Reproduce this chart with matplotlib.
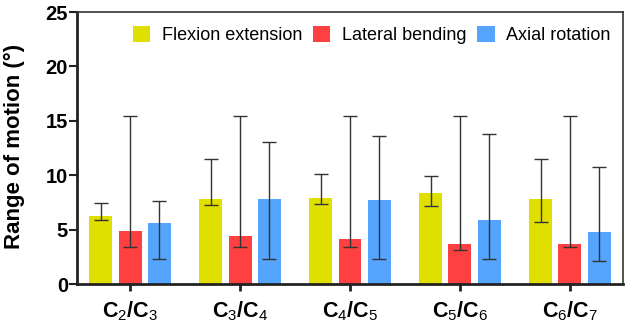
import numpy as np
import matplotlib
matplotlib.use("Agg")
import matplotlib.pyplot as plt

plt.rcParams['font.family'] = ['Liberation Sans', 'DejaVu Sans']
plt.rcParams['mathtext.fontset'] = 'custom'
plt.rcParams['mathtext.rm'] = 'Liberation Sans'
plt.rcParams['mathtext.bf'] = 'Liberation Sans:bold'

levels = [r'C$_\mathrm{2}$/C$_\mathrm{3}$', r'C$_\mathrm{3}$/C$_\mathrm{4}$',
          r'C$_\mathrm{4}$/C$_\mathrm{5}$', r'C$_\mathrm{5}$/C$_\mathrm{6}$',
          r'C$_\mathrm{6}$/C$_\mathrm{7}$']
series = ['Flexion extension', 'Lateral bending', 'Axial rotation']
colors = ['#dfdf00', '#ff4040', '#55a5ff']

# bar heights (mean) and range (min / max) per series
flexion = [6.25, 7.85, 7.93, 8.33, 7.85]
flexion_lo = [5.85, 7.29, 7.38, 7.17, 5.67]
flexion_hi = [7.48, 11.46, 10.08, 9.89, 11.46]

lateral = [4.87, 4.44, 4.17, 3.64, 3.64]
lateral_lo = [3.37, 3.37, 3.37, 3.09, 3.37]
lateral_hi = [15.4, 15.4, 15.4, 15.4, 15.4]

axial = [5.58, 7.78, 7.75, 5.85, 4.78]
axial_lo = [2.27, 2.27, 2.27, 2.27, 2.09]
axial_hi = [7.66, 13.02, 13.6, 13.79, 10.78]

means = [flexion, lateral, axial]
lows = [flexion_lo, lateral_lo, axial_lo]
highs = [flexion_hi, lateral_hi, axial_hi]

fig = plt.figure(figsize=(6.3, 3.27), dpi=100)
ax = fig.add_axes([77 / 630, 1 - 284 / 327, 546 / 630, 272 / 327])

x = np.arange(len(levels))
step = 0.264
width = 0.209
for i, name in enumerate(series):
    pos = x + (i - 1) * step
    m = np.array(means[i])
    err = [m - np.array(lows[i]), np.array(highs[i]) - m]
    ax.bar(pos, m, width, color=colors[i], label=name, zorder=2)
    ax.errorbar(pos, m, yerr=err, fmt='none', ecolor='#333333',
                elinewidth=1, capsize=5, capthick=1, zorder=3)

ax.set_xlim(-0.482, 4.482)
ax.set_ylim(0, 25)
ax.set_yticks([0, 5, 10, 15, 20, 25])
ax.set_xticks(x)
ax.set_xticklabels(levels, fontsize=15.5, fontweight='bold')
for lbl in ax.get_yticklabels():
    lbl.set_fontsize(14.5)
    lbl.set_fontweight('bold')
ax.set_ylabel('Range of motion (°)', fontsize=16, fontweight='bold')
ax.yaxis.set_label_coords(-0.095, 0.505)

for s in ['left', 'bottom']:
    ax.spines[s].set_linewidth(2)
    ax.spines[s].set_color('#222222')
for s in ['top', 'right']:
    ax.spines[s].set_linewidth(1.2)
    ax.spines[s].set_color('#333333')
ax.tick_params(axis='y', width=1.5, length=6, color='#222222', pad=0.5)
ax.tick_params(axis='x', width=2, length=5, color='#222222', pad=6)

ax.legend(loc='upper center', bbox_to_anchor=(0.54, 0.995), ncol=3, frameon=False,
          fontsize=13, handlelength=0.95, handleheight=0.95, columnspacing=0.6,
          handletextpad=0.65, borderaxespad=0.3)

fig.savefig('out.png', dpi=100)
